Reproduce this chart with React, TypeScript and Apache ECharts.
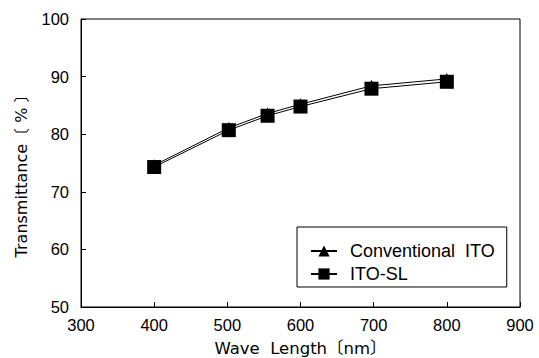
import React, { useEffect, useRef } from "react";
import * as echarts from "echarts";

const waveLengths = [400, 502, 555, 600, 697, 800];
const conventionalITO = [74.6, 81.1, 83.6, 85.2, 88.4, 89.6];
const itoSL = [74.3, 80.7, 83.2, 84.8, 87.9, 89.1];
const seriesNames = ["Conventional  ITO", "ITO-SL"];

const FONT = "'Liberation Sans', Arial, 'Noto Sans CJK KR', sans-serif";
const NAME_FONT = "'DejaVu Sans', 'Noto Sans CJK KR', sans-serif";

export default function App() {
  const ref = useRef<HTMLDivElement>(null);
  useEffect(() => {
    if (!ref.current) return;
    const chart = echarts.init(ref.current, undefined, { renderer: "svg" });
    const pair = (ys: number[]) => waveLengths.map((x, i) => [x, ys[i]]);
    chart.setOption({
      animation: false,
      backgroundColor: "#fff",
      textStyle: { fontFamily: FONT, color: "#000" },
      grid: {
        left: 81,
        right: 19,
        top: 19,
        bottom: 51,
        outerBoundsMode: "none",
        containLabel: false,
        show: true,
        borderColor: "#000",
        borderWidth: 1,
        backgroundColor: "transparent",
      },
      legend: {
        orient: "vertical",
        left: 297,
        top: 227,
        padding: [15, 12, 4, 13],
        itemWidth: 26,
        itemHeight: 14,
        itemGap: 5,
        borderColor: "#000",
        borderWidth: 1,
        textStyle: { fontFamily: FONT, fontSize: 18, color: "#000", padding: [0, 0, 0, 8] },
        data: seriesNames,
      },
      xAxis: {
        type: "value",
        min: 300,
        max: 900,
        interval: 100,
        name: "Wave  Length〔nm〕",
        nameLocation: "middle",
        nameGap: 33,
        nameTextStyle: { fontFamily: NAME_FONT, fontSize: 16.5, color: "#000" },
        axisLine: { show: true, lineStyle: { color: "#000", width: 1 } },
        axisTick: { show: true, inside: true, length: 5, lineStyle: { color: "#000" } },
        axisLabel: { fontFamily: FONT, fontSize: 16.5, color: "#000", margin: 10 },
        splitLine: { show: false },
      },
      yAxis: {
        type: "value",
        min: 50,
        max: 100,
        interval: 10,
        name: "Transmittance〔 % 〕",
        nameLocation: "middle",
        nameGap: 52,
        nameTextStyle: { fontFamily: NAME_FONT, fontSize: 16, color: "#000", padding: [0, 18, 0, 0] },
        axisLine: { show: true, lineStyle: { color: "#000", width: 1 } },
        axisTick: { show: true, inside: true, length: 5, lineStyle: { color: "#000" } },
        axisLabel: { fontFamily: FONT, fontSize: 16.5, color: "#000", margin: 12, padding: [5, 0, 0, 0] },
        splitLine: { show: false },
      },
      series: [
        {
          name: seriesNames[0],
          type: "line",
          data: pair(conventionalITO),
          symbol: "triangle",
          symbolSize: 12,
          itemStyle: { color: "#000" },
          lineStyle: { color: "#000", width: 1 },
        },
        {
          name: seriesNames[1],
          type: "line",
          data: pair(itoSL),
          symbol: "rect",
          symbolSize: 14,
          itemStyle: { color: "#000" },
          lineStyle: { color: "#000", width: 1 },
        },
      ],
    });
    return () => chart.dispose();
  }, []);
  return <div ref={ref} style={{ width: 539, height: 358, position: "absolute", left: 0, top: 0 }} />;
}
